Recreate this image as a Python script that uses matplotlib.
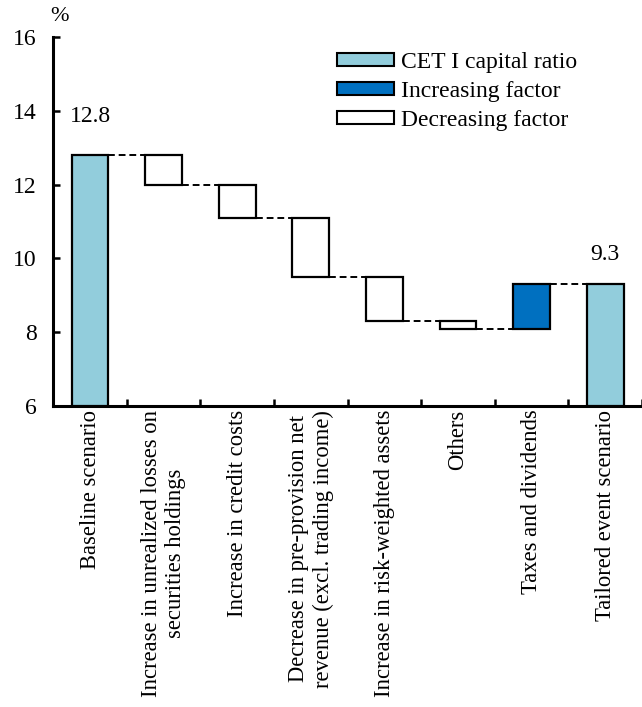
import numpy as np
import matplotlib
matplotlib.use("Agg")
from matplotlib import pyplot as plt
from matplotlib.patches import Patch

plt.rcParams['font.family'] = ['Liberation Serif', 'DejaVu Serif']

#data
categories = ["Baseline scenario",
              "Increase in unrealized losses on\nsecurities holdings",
              "Increase in credit costs",
              "Decrease in pre-provision net\nrevenue (excl. trading income)",
              "Increase in risk-weighted assets",
              "Others",
              "Taxes and dividends",
              "Tailored event scenario"]
start_value = 12.8
changes = [-0.8, -0.9, -1.6, -1.2, -0.2, 1.2]
end_value = 9.3

col_total = "#92cddc"
col_up = "#0070c0"
col_down = "white"

fs = 17

fig = plt.figure(figsize=(6.42, 7.07), dpi=100)
ax = fig.add_axes([0.083, 0.4257, 0.917, 0.522])

w = 0.5
bottoms = []
heights = []
colors = []
bottoms.append(6)
heights.append(start_value - 6)
colors.append(col_total)
level = start_value
for c in changes:
  new = level + c
  bottoms.append(min(level, new))
  heights.append(abs(c))
  colors.append(col_up if c > 0 else col_down)
  level = new
bottoms.append(6)
heights.append(end_value - 6)
colors.append(col_total)

x = np.arange(len(categories))
ax.bar(x, heights, bottom=bottoms, width=w, color=colors,
       edgecolor="black", linewidth=1.6, zorder=3)

#dashed connectors between bars
tops = [start_value]
level = start_value
for c in changes:
  level = level + c
  tops.append(level)
for i in range(len(tops)):
  ax.plot([x[i] + w / 2, x[i + 1] - w / 2], [tops[i], tops[i]],
          color="black", linestyle=(0, (3.5, 2)), linewidth=1.4, zorder=2)

ax.annotate("12.8", (x[0], start_value), xytext=(0, 20), textcoords="offset points",
            ha="center", va="bottom", fontsize=fs)
ax.annotate("9.3", (x[-1], end_value), xytext=(0, 14), textcoords="offset points",
            ha="center", va="bottom", fontsize=fs)

ax.set_ylim(6, 16)
ax.set_xlim(-0.5, 7.45)
ax.set_yticks([6, 8, 10, 12, 14, 16])
ax.set_xticks(x + 0.5, minor=False)
ax.set_xticklabels([])
ax.tick_params(axis="both", direction="in", length=5, width=1.8, labelsize=fs)
ax.tick_params(axis="y", pad=12)
for s in ["top", "right"]:
  ax.spines[s].set_visible(False)
for s in ["left", "bottom"]:
  ax.spines[s].set_linewidth(2.2)

for i, lab in enumerate(categories):
  ax.text(x[i], 5.9, lab, rotation=90, ha="center", va="top",
          multialignment="center", fontsize=16.3, linespacing=1.2)

ax.text(-0.41, 16.3, "%", fontsize=fs - 1, ha="center", va="bottom")

handles = [Patch(facecolor=col_total, edgecolor="black", linewidth=1.5, label="CET I capital ratio"),
           Patch(facecolor=col_up, edgecolor="black", linewidth=1.5, label="Increasing factor"),
           Patch(facecolor=col_down, edgecolor="black", linewidth=1.5, label="Decreasing factor")]
ax.legend(handles=handles, loc="upper left", bbox_to_anchor=(0.482, 0.96), frameon=False,
          fontsize=fs, handlelength=2.4, handleheight=0.5, handletextpad=0.3,
          labelspacing=0.34, borderaxespad=0, borderpad=0)

fig.savefig("out.png", dpi=100)
